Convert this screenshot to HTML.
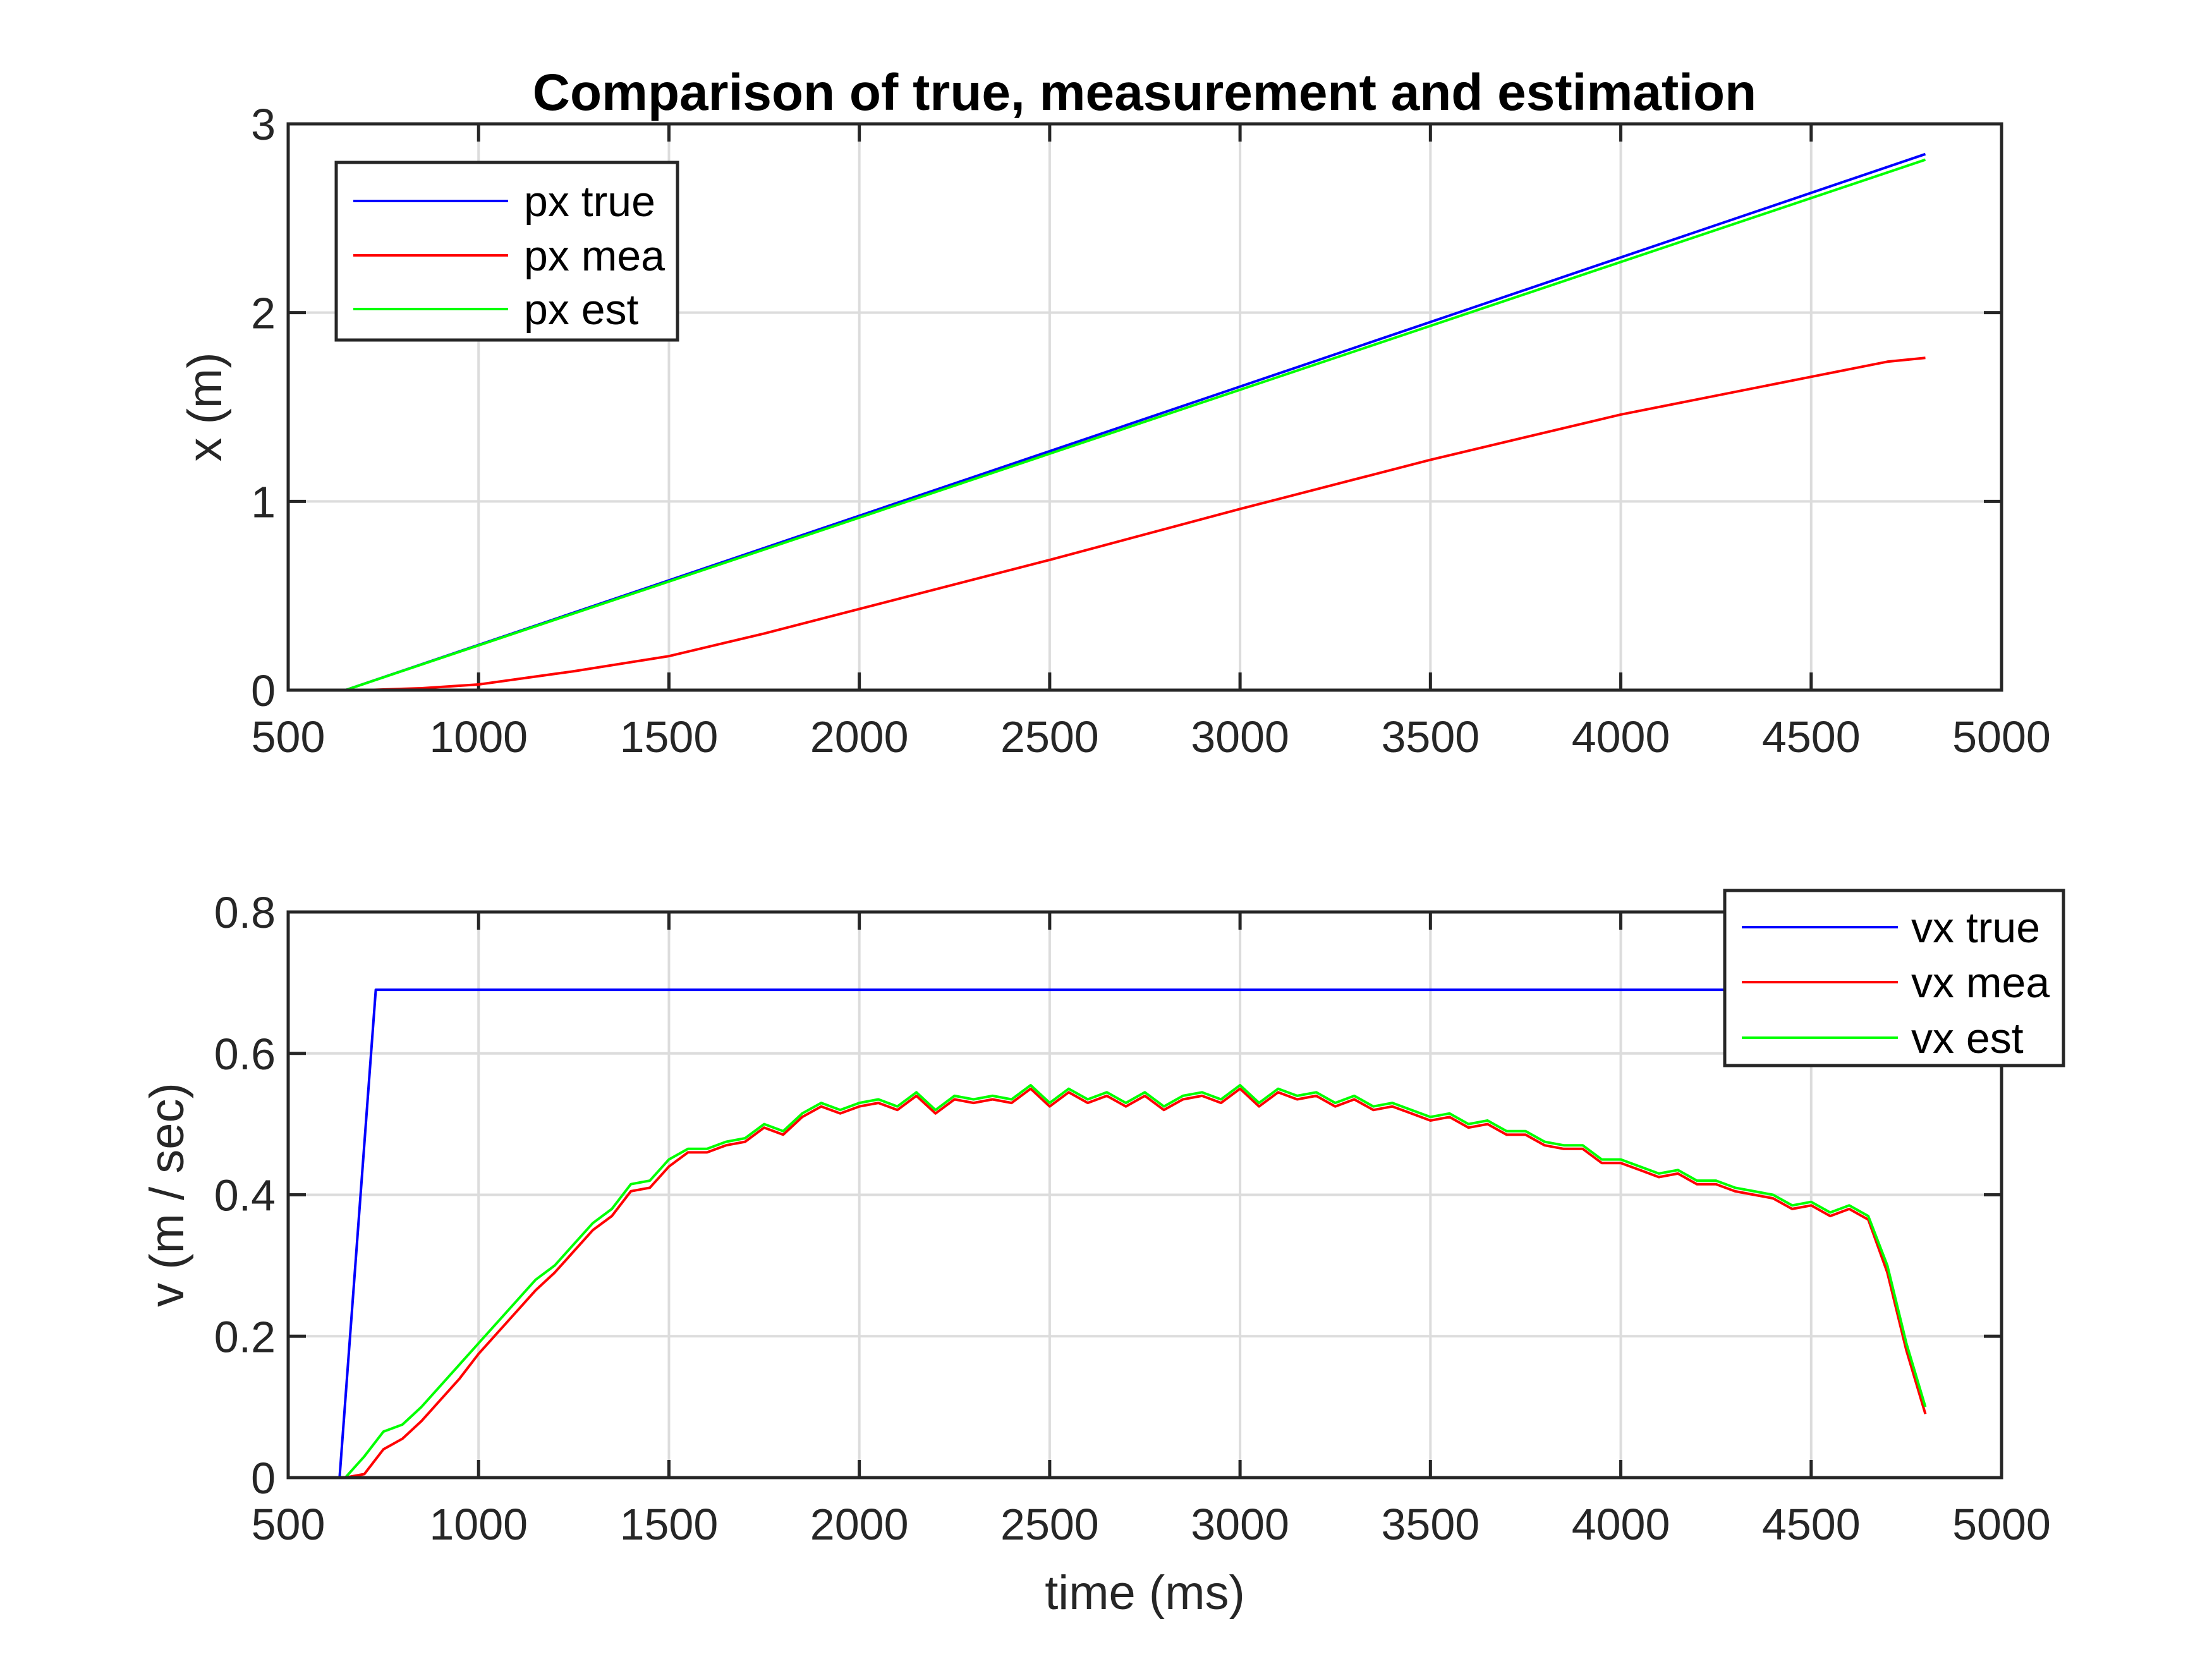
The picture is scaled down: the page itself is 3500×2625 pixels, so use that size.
<!DOCTYPE html>
<html><head><meta charset="utf-8">
<style>
html,body{margin:0;padding:0;background:#fff;}
svg{display:block;font-family:"Liberation Sans",Arial,sans-serif;}
</style></head>
<body>
<svg id="chart" width="3500" height="2625" viewBox="0 0 3500 2625" xmlns="http://www.w3.org/2000/svg">
<rect x="0" y="0" width="3500" height="2625" fill="#fff"/>
<text x="1811" y="174" font-size="82" font-weight="bold" text-anchor="middle" fill="#000">Comparison of true, measurement and estimation</text>
<g id="p1"></g>
<g id="p2"></g>
</svg>
<script>
const xTicks = [500,1000,1500,2000,2500,3000,3500,4000,4500,5000];
const pTicks = [0,1,2,3];
const vTicks = [0,0.2,0.4,0.6,0.8];
const vTickLabels = ["0","0.2","0.4","0.6","0.8"];

const pxTrueT = [650,4800];
const pxTrueV = [0,2.84];
const pxEstT = [650,4800];
const pxEstV = [0,2.81];
const pxMeaT = [650,700,850,1000,1250,1500,1750,2000,2500,3000,3500,4000,4500,4700,4800];
const pxMeaV = [0,0,0.01,0.03,0.1,0.18,0.3,0.43,0.69,0.96,1.22,1.46,1.66,1.74,1.76];

const vxTrueT = [635,730,4800];
const vxTrueV = [0,0.69,0.69];
const vxT0 = 650, vxDt = 50;
const vxEst = [0,0.03,0.065,0.075,0.1,0.13,0.16,0.19,0.22,0.25,0.28,0.30,0.33,0.36,0.38,0.415,0.42,0.45,0.465,0.465,0.475,0.48,0.50,0.49,0.515,0.53,0.52,0.53,0.535,0.525,0.545,0.52,0.54,0.535,0.54,0.535,0.555,0.53,0.55,0.535,0.545,0.53,0.545,0.525,0.54,0.545,0.535,0.555,0.53,0.55,0.54,0.545,0.53,0.54,0.525,0.53,0.52,0.51,0.515,0.50,0.505,0.49,0.49,0.475,0.47,0.47,0.45,0.45,0.44,0.43,0.435,0.42,0.42,0.41,0.405,0.40,0.385,0.39,0.375,0.385,0.37,0.30,0.19,0.10];
const vxMea = [0,0.005,0.04,0.055,0.08,0.11,0.14,0.175,0.205,0.235,0.265,0.29,0.32,0.35,0.37,0.405,0.41,0.44,0.46,0.46,0.47,0.475,0.495,0.485,0.51,0.525,0.515,0.525,0.53,0.52,0.54,0.515,0.535,0.53,0.535,0.53,0.55,0.525,0.545,0.53,0.54,0.525,0.54,0.52,0.535,0.54,0.53,0.55,0.525,0.545,0.535,0.54,0.525,0.535,0.52,0.525,0.515,0.505,0.51,0.495,0.5,0.485,0.485,0.47,0.465,0.465,0.445,0.445,0.435,0.425,0.43,0.415,0.415,0.405,0.4,0.395,0.38,0.385,0.37,0.38,0.365,0.29,0.18,0.09];

const NS = "http://www.w3.org/2000/svg";
const L = 456, R = 3167;
function mk(parent, tag, attrs){const e=document.createElementNS(NS,tag);for(const k in attrs)e.setAttribute(k,attrs[k]);parent.appendChild(e);return e;}
function xs(t){return L+(t-500)/4500*(R-L);}

function axes(g, top, bot, ymax, yTicks, yLabels, ylab, ylabX, xlab){
  const ys = v => bot-(v/ymax)*(bot-top);
  xTicks.forEach(t=>{
    const l=mk(g,'line',{x1:xs(t),x2:xs(t),y1:top,y2:bot,stroke:'#dcdcdc','stroke-width':4});
    
    
  });
  yTicks.forEach(v=>{
    const l=mk(g,'line',{x1:L,x2:R,y1:ys(v),y2:ys(v),stroke:'#dcdcdc','stroke-width':4});
    
    
  });
  xTicks.forEach(t=>{
    mk(g,'line',{x1:xs(t),x2:xs(t),y1:bot,y2:bot-28,stroke:'#262626','stroke-width':5});
    mk(g,'line',{x1:xs(t),x2:xs(t),y1:top,y2:top+28,stroke:'#262626','stroke-width':5});
    const tx=mk(g,'text',{x:xs(t),y:bot+98,'font-size':70,'text-anchor':'middle',fill:'#262626'});
    tx.textContent=t;
    
    
  });
  yTicks.forEach((v,i)=>{
    mk(g,'line',{x1:L,x2:L+28,y1:ys(v),y2:ys(v),stroke:'#262626','stroke-width':5});
    mk(g,'line',{x1:R,x2:R-28,y1:ys(v),y2:ys(v),stroke:'#262626','stroke-width':5});
    const tx=mk(g,'text',{x:L-20,y:ys(v)+25,'font-size':70,'text-anchor':'end',fill:'#262626'});
    tx.textContent=yLabels[i];
    
    
  });
  const yl=mk(g,'text',{x:0,y:0,'font-size':76,'text-anchor':'middle',fill:'#262626',transform:`translate(${ylabX},${(top+bot)/2}) rotate(-90)`});
  yl.textContent=ylab;
  
  
  if(xlab){
    const xl=mk(g,'text',{x:(L+R)/2,y:bot+208,'font-size':76,'text-anchor':'middle',fill:'#262626'});
    xl.textContent=xlab;
    
    
  }
  return ys;
}
function line(g, ts, vs, ys, color, name){
  const d=ts.map((t,i)=>(i?'L':'M')+xs(t).toFixed(1)+' '+ys(vs[i]).toFixed(1)).join(' ');
  const p=mk(g,'path',{d:d,fill:'none',stroke:color,'stroke-width':4,'stroke-linejoin':'round'});
  
  
}
function frame(g, top, bot){
  const f=mk(g,'rect',{x:L,y:top,width:R-L,height:bot-top,fill:'none',stroke:'#262626','stroke-width':5});
  
  
}
function legend(g, x, y, w, h, labels, colors, rowYs, lx1, lx2, tx){
  const b=mk(g,'rect',{x:x,y:y,width:w,height:h,fill:'#fff',stroke:'#262626','stroke-width':5});
  
  
  labels.forEach((lab,i)=>{
    const l=mk(g,'line',{x1:lx1,x2:lx2,y1:rowYs[i],y2:rowYs[i],stroke:colors[i],'stroke-width':4});
    
    
    const t=mk(g,'text',{x:tx,y:rowYs[i]+24,'font-size':68,fill:'#000'});
    t.textContent=lab;
    
    
  });
}

const g1=document.getElementById('p1');
const ys1=axes(g1,196,1092,3,pTicks,pTicks.map(String),'x (m)',350,null);
line(g1,pxTrueT,pxTrueV,ys1,'#0000ff','px-true-line');
line(g1,pxMeaT,pxMeaV,ys1,'#ff0000','px-mea-line');
line(g1,pxEstT,pxEstV,ys1,'#00ff00','px-est-line');
frame(g1,196,1092);
legend(g1,532,257,540,281,['px true','px mea','px est'],['#0000ff','#ff0000','#00ff00'],[318,404,489],559,804,829);

const g2=document.getElementById('p2');
const ys2=axes(g2,1443,2338,0.8,vTicks,vTickLabels,'v (m / sec)',290,'time (ms)');
const vxT=vxEst.map((_,i)=>vxT0+i*vxDt);
line(g2,vxTrueT,vxTrueV,ys2,'#0000ff','vx-true-line');
line(g2,vxT,vxMea,ys2,'#ff0000','vx-mea-line');
line(g2,vxT,vxEst,ys2,'#00ff00','vx-est-line');
frame(g2,1443,2338);
legend(g2,2729,1409,536,277,['vx true','vx mea','vx est'],['#0000ff','#ff0000','#00ff00'],[1467,1554,1642],2756,3003,3024);
</script>
</body></html>
